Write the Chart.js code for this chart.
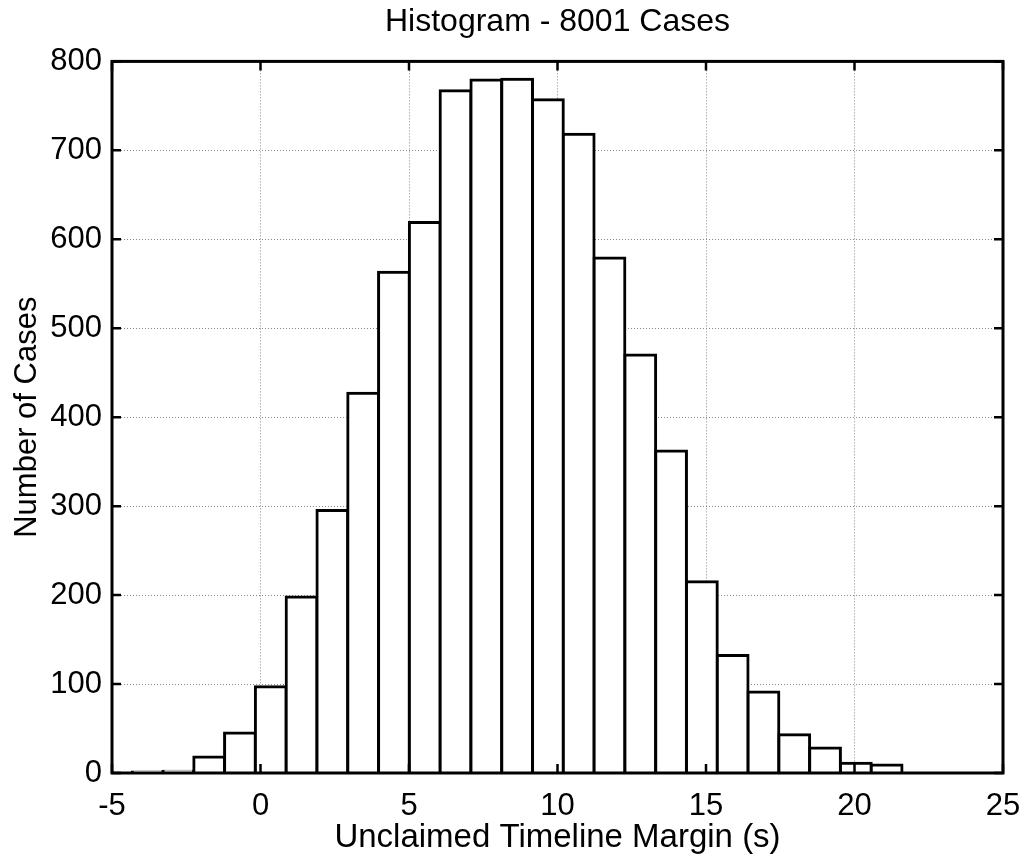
<!DOCTYPE html>
<html>
<head>
<meta charset="utf-8">
<script src="https://cdn.jsdelivr.net/npm/chart.js"></script>
<style>
  body { margin: 0; background: #fff; overflow: hidden; }
  #wrap { width: 1028px; height: 865px; }
</style>
</head>
<body>
<div id="wrap"><canvas id="myChart" width="1028" height="865"></canvas></div>
<script>
// histogram bins (centre of each bin, seconds) and counts
var binCenters = [-3.802, -2.765, -1.728, -0.692, 0.345, 1.382, 2.419, 3.456, 4.493, 5.530,
    6.566, 7.603, 8.640, 9.677, 10.714, 11.750, 12.787, 13.824, 14.861, 15.898,
    16.934, 17.971, 19.008, 20.045, 21.082];
var counts = [1, 2, 18, 45, 97, 198, 295, 427, 563, 619,
    767, 779, 780, 757, 718, 579, 470, 362, 215, 132,
    91, 43, 28, 11, 9];
var xTicks = [-5, 0, 5, 10, 15, 20, 25];
var yTicks = [0, 100, 200, 300, 400, 500, 600, 700, 800];

var titleText = 'Histogram - 8001 Cases';
var xTitle = 'Unclaimed Timeline Margin (s)';
var yTitle = 'Number of Cases';

var fontFamily = "'Liberation Sans', Arial, Helvetica, sans-serif";

// box round the plot with inward tick marks, like the original figure
var framePlugin = {
    id: 'frame',
    afterDatasetsDraw(chart) {
        var ctx = chart.ctx, a = chart.chartArea;
        var x = chart.scales.x, y = chart.scales.y;
        ctx.save();
        ctx.strokeStyle = '#000';
        ctx.lineWidth = 2.5;
        ctx.beginPath();
        xTicks.forEach(v => {
            var px = x.getPixelForValue(v);
            ctx.moveTo(px, a.bottom); ctx.lineTo(px, a.bottom - 9);
            ctx.moveTo(px, a.top); ctx.lineTo(px, a.top + 9);
        });
        yTicks.forEach(v => {
            var py = y.getPixelForValue(v);
            ctx.moveTo(a.left, py); ctx.lineTo(a.left + 9, py);
            ctx.moveTo(a.right, py); ctx.lineTo(a.right - 9, py);
        });
        ctx.stroke();
        ctx.lineWidth = 3;
        ctx.strokeRect(a.left, a.top, a.right - a.left, a.bottom - a.top);
        ctx.restore();
    }
};

var ctx = document.getElementById('myChart').getContext('2d');
var myChart = new Chart(ctx, {
    type: 'bar',
    data: {
        datasets: [{
            label: 'cases',
            data: binCenters.map((c, i) => ({ x: c, y: counts[i] })),
            backgroundColor: '#fff',
            borderColor: '#000',
            borderWidth: 3,
            borderSkipped: 'bottom',
            inflateAmount: 1.5,
            barPercentage: 1,
            categoryPercentage: 1
        }]
    },
    options: {
        responsive: false,
        animation: false,
        layout: { padding: { top: 0, right: 25, bottom: 0, left: 0 } },
        plugins: {
            legend: { display: false },
            tooltip: { enabled: false },
            title: {
                display: true,
                text: titleText,
                fullSize: false,
                color: '#000',
                font: { family: fontFamily, size: 32, weight: 'normal', lineHeight: 1.2 },
                padding: { top: 3, bottom: 20 }
            }
        },
        scales: {
            x: {
                type: 'linear',
                min: -5,
                max: 25,
                offset: false,
                afterBuildTicks: s => { s.ticks = xTicks.map(v => ({ value: v })); },
                afterFit: s => { s.height = 92; s.paddingLeft = 0; s.paddingRight = 0; },
                grid: { color: '#888', lineWidth: 1, drawTicks: false, offset: false },
                border: { display: false, dash: [1, 2] },
                ticks: {
                    color: '#000',
                    padding: 15,
                    maxRotation: 0,
                    font: { family: fontFamily, size: 31 }
                },
                title: {
                    display: true,
                    text: xTitle,
                    color: '#000',
                    font: { family: fontFamily, size: 33, lineHeight: 1.2 },
                    padding: { top: 0, bottom: 7 }
                }
            },
            y: {
                min: 0,
                max: 800,
                afterBuildTicks: s => { s.ticks = yTicks.map(v => ({ value: v })); },
                afterFit: s => { s.width = 112; s.paddingTop = 0; s.paddingBottom = 0; },
                grid: { color: '#888', lineWidth: 1, drawTicks: false },
                border: { display: false, dash: [1, 2] },
                ticks: {
                    color: '#000',
                    padding: 10,
                    font: { family: fontFamily, size: 31 }
                },
                title: {
                    display: true,
                    text: yTitle,
                    color: '#000',
                    font: { family: fontFamily, size: 31, lineHeight: 1.2 },
                    padding: { top: 9, bottom: 0 }
                }
            }
        }
    },
    plugins: [framePlugin]
});
</script>
</body>
</html>
